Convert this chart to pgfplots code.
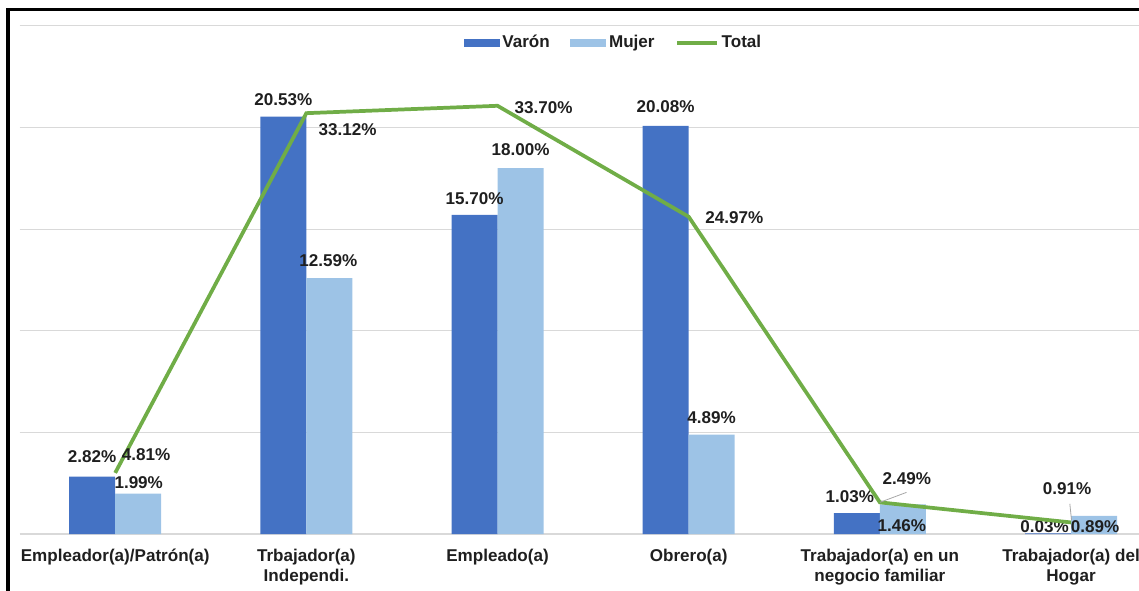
\documentclass[border=0pt]{standalone}
\usepackage{pgfplots}
\pgfplotsset{compat=1.18}
\usepackage{pgfplotstable}
\usepackage{fontspec}
\setmainfont{Liberation Sans}

\definecolor{VaronColor}{HTML}{4472C4}
\definecolor{MujerColor}{HTML}{9DC3E6}
\definecolor{TotalColor}{HTML}{70AD47}
\definecolor{GridColor}{HTML}{D9D9D9}
\definecolor{LabelColor}{HTML}{1F1F1F}

\pgfplotsset{
    barleg/.style={legend image code/.code={\fill[##1] (0pt,-3pt) rectangle (27pt,3pt);}},
    lineleg/.style={legend image code/.code={\draw[##1] (0pt,0pt) -- (30pt,0pt);}},
}

% x = category, dx/dy = label offset in pt
\pgfplotstableread{
x  y      dx     dy
0  2.82   0      15
1  20.53  0      12.5
2  15.70  0      12.5
3  20.08  0      14
4  1.03   -5.25  12
5  0.03   -2.6   5
}\varon
\pgfplotstableread{
x  y      dx     dy
0  1.99   0.4    8.4
1  12.59  -0.75  13
2  18.00  0      13.5
3  4.89   0      13
4  1.46   -0.75  -16.3
5  0.89   0.75   -8.1
}\mujer
\pgfplotstableread{
x  y      dx     dy
0  4.81   23.25  13.4
1  33.12  30.9   -12
2  33.70  34.5   -1.2
3  24.97  34.3   -0.5
4  2.49   20.25  18
5  0.91   -3     25.5
}\total

\begin{document}
\begin{tikzpicture}[every node/.style={font=\bfseries\fontsize{12.8}{15.5}\selectfont, text=LabelColor}]
\pgfplotsset{
    base/.style={
        at={(0,0)}, anchor=south west,
        scale only axis,
        width=860.25pt, height=381.2pt,
        xmin=-0.5, xmax=5.5,
        enlarge x limits=false,
        clip=false,
    },
    labels/.style={
        point meta=y,
        visualization depends on={\thisrow{dx} \as \dx},
        visualization depends on={\thisrow{dy} \as \dy},
        nodes near coords={\pgfmathprintnumber[fixed,fixed zerofill,precision=2,assume math mode=true]{\pgfplotspointmeta}\%},
        nodes near coords style={anchor=center, xshift=\dx pt, yshift=\dy pt,
            font=\bfseries\fontsize{12.8}{15}\selectfont, text=LabelColor},
    },
}
\begin{axis}[
    base,
    ybar=0pt, bar width=34.5pt,
    ymin=0, ymax=25,
    ytick={0,5,...,25}, yticklabels={},
    ymajorgrids, grid style={GridColor, line width=0.8pt},
    axis line style={draw=none},
    tick style={draw=none},
    xtick={0,...,5},
    xticklabels={Empleador(a)/Patrón(a), {Trbajador(a)\\Independi.}, Empleado(a), Obrero(a),
        {Trabajador(a) en un\\negocio familiar}, {Trabajador(a) del\\Hogar}},
    xticklabel style={align=center, yshift=-3.5pt,
        font=\bfseries\fontsize{12.8}{15.3}\selectfont, text=LabelColor},
    legend columns=-1,
    legend style={at={(0.518,0.9666)}, anchor=center, draw=none, fill=none,
        font=\bfseries\fontsize{12.8}{15}\selectfont, text=LabelColor,
        /tikz/every even column/.append style={column sep=13.5pt},
        /tikz/every odd column/.append style={column sep=0pt}},
]
\addplot[fill=VaronColor, draw=none, labels, barleg] table[x=x, y=y] {\varon};
\addplot[fill=MujerColor, draw=none, labels, barleg] table[x=x, y=y] {\mujer};
\addlegendimage{color=TotalColor, line width=2.8pt, lineleg}
\legend{Varón, Mujer, Total}
\end{axis}

\begin{axis}[
    base,
    ymin=0, ymax=40,
    hide axis,
]
\addplot[color=TotalColor, line width=2.8pt, mark=none, labels] table[x=x, y=y] {\total};
\draw[gray!70, line width=0.6pt] (axis cs:4,2.49) -- ++(20pt,7.5pt);
\draw[gray!70, line width=0.6pt] (axis cs:5,0.91) ++(0.4pt,1.5pt) -- ++(-1.3pt,12.5pt);
\end{axis}

\draw[line width=2.5pt] (-8.7pt,-60pt) -- (-8.7pt,393.2pt) -- (900pt,393.2pt);
\pgfresetboundingbox
\path (-14.7pt,-42pt) rectangle (839.55pt,400.5pt);
\end{tikzpicture}
\end{document}
